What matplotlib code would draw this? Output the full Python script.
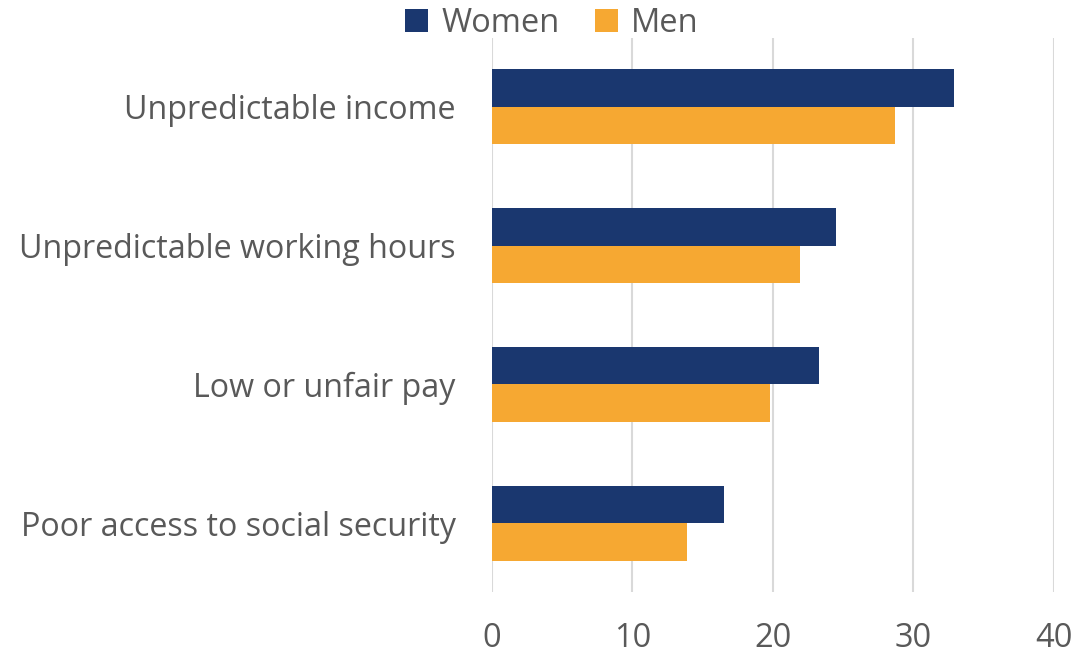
import numpy as np
import matplotlib.pyplot as plt

# data
categories = ["Unpredictable income", "Unpredictable working hours",
              "Low or unfair pay", "Poor access to social security"]
women = [32.9, 24.5, 23.3, 16.5]
men = [28.7, 21.9, 19.8, 13.9]
x_ticks = [0, 10, 20, 30, 40]

navy = "#1a376f"
orange = "#f6a832"
grey_text = "#595959"
grid_col = "#d9d9d9"

plt.rcParams["font.family"] = ["Open Sans", "DejaVu Sans"]

fig = plt.figure(figsize=(10.76, 6.56), dpi=100)
ax = fig.add_axes([0.457, 0.0968, 0.5226, 0.8460])

y = np.arange(len(categories))
h = 0.27
ax.barh(y - h / 2, women, height=h, color=navy, label="Women", zorder=3)
ax.barh(y + h / 2, men, height=h, color=orange, label="Men", zorder=3)

ax.set_xlim(0, 40)
ax.set_ylim(len(categories) - 0.5, -0.5)
ax.set_xticks(x_ticks)
ax.set_yticks(y)
ax.set_yticklabels(categories)

ax.tick_params(axis="y", length=0, pad=26, labelsize=23.2, labelcolor=grey_text)
ax.tick_params(axis="x", length=0, pad=21, labelsize=23.5, labelcolor=grey_text)

ax.grid(axis="x", color=grid_col, linewidth=1.5, zorder=0)
for s in ax.spines.values():
    s.set_visible(False)

handles, labels = ax.get_legend_handles_labels()
fig.legend(handles, labels, loc="center", bbox_to_anchor=(0.513, 0.964), ncol=2,
           frameon=False, fontsize=23.5, labelcolor=grey_text,
           handlelength=0.7, handleheight=0.7, handletextpad=0.4,
           columnspacing=1.1)

fig.savefig("out.png", dpi=100)
